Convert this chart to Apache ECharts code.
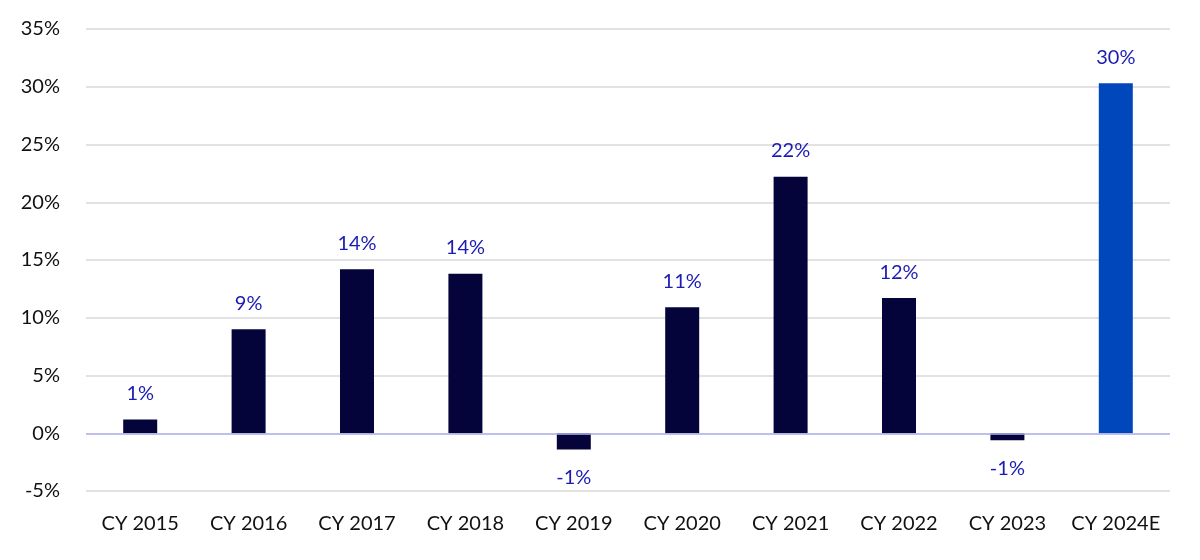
<!DOCTYPE html>
<html><head><meta charset="utf-8">
<script src="https://cdn.jsdelivr.net/npm/echarts@6/dist/echarts.min.js"></script>
<style>html,body{margin:0;padding:0;background:#fff}#c{width:1200px;height:560px}</style>
</head><body><div id="c"></div>
<script>
const categories = ['CY 2015','CY 2016','CY 2017','CY 2018','CY 2019','CY 2020','CY 2021','CY 2022','CY 2023','CY 2024E'];
const values = [1.2, 9.0, 14.2, 13.8, -1.4, 10.9, 22.2, 11.7, -0.6, 30.3];
const barColors = ['#05043a','#05043a','#05043a','#05043a','#05043a','#05043a','#05043a','#05043a','#05043a','#0047bb'];
const yTicks = [-5, 0, 5, 10, 15, 20, 25, 30, 35];

const font = 'Lato, "Noto Sans", sans-serif';
const chart = echarts.init(document.getElementById('c'));
chart.setOption({
  animation: false,
  grid: {left: 86, right: 30, top: 29, bottom: 69},
  xAxis: {
    type: 'category', data: categories,
    axisLine: {show: false}, axisTick: {show: false},
    axisLabel: {interval: 0, color: '#111', fontSize: 20, fontFamily: font, margin: 33, verticalAlign: 'middle', lineHeight: 20}
  },
  yAxis: {
    type: 'value', min: yTicks[0], max: yTicks[yTicks.length-1], interval: 5,
    axisLine: {show: false}, axisTick: {show: false},
    axisLabel: {color: '#111', fontSize: 20, fontFamily: font, margin: 26, formatter: v => v + '%'},
    splitLine: {lineStyle: {color: '#d9d9d9', width: 1.5}}
  },
  series: [{
    type: 'bar', barWidth: 34,
    data: values.map((v, i) => ({
      value: v,
      itemStyle: {color: barColors[i]},
      label: {position: v < 0 ? 'bottom' : 'top', distance: v < 0 ? 18 : 16}
    })),
    label: {show: true, color: '#1b1bb5', fontSize: 20, fontFamily: font,
      formatter: p => Math.round(p.value) + '%'},
    markLine: {
      silent: true, symbol: 'none', label: {show: false},
      lineStyle: {color: '#b3b3f2', width: 1.5, type: 'solid'},
      data: [{yAxis: 0}]
    }
  }]
});
</script></body></html>
